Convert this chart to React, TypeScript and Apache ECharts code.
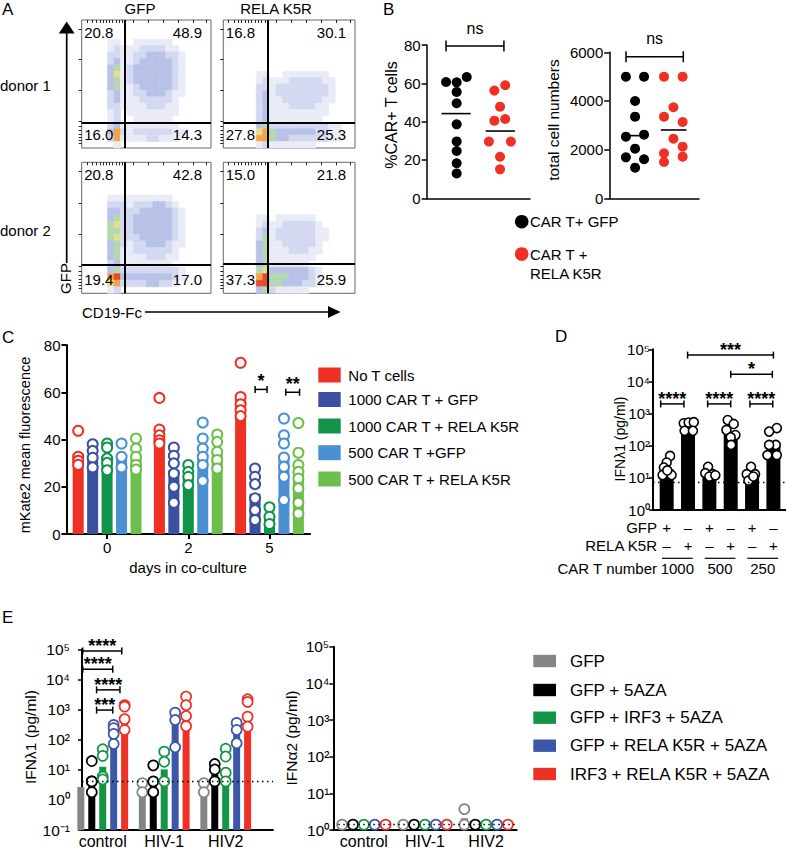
import React, { useEffect, useRef } from 'react';
import * as echarts from 'echarts';

const FF = '"Liberation Sans", Arial, Helvetica, sans-serif';

/* ---------------- Panel A : flow cytometry ---------------- */
const flowColumnLabels = ['GFP', 'RELA K5R'];
const flowRowLabels = ['donor 1', 'donor 2'];
// quadrant percentages: [upper-left, upper-right, lower-left, lower-right]
const flowQuadrantValues = [
  [20.8, 48.9, 16.0, 14.3],
  [16.8, 30.1, 27.8, 25.3],
  [20.8, 42.8, 19.4, 17.0],
  [15.0, 21.8, 37.3, 25.9],
];
const flowGateX = [6.7, 6.7, 6.7, 6.7];
const flowGateY = [16.0, 16.0, 15.7, 15.5];
// event density read on a 20 x 20 grid (row 0 = top), 0 = empty ... 7 = highest
const flowDensityDonor1Gfp = [
  '00000000000000000000',
  '00000000000000000000',
  '00000000000000000000',
  '00001100111111000000',
  '00001211122221100000',
  '00002211223332210000',
  '00002311233333210000',
  '00003412333333210000',
  '00003512333333210000',
  '00003412333333210000',
  '00003411233333210000',
  '00002311223332110000',
  '00002311122222100000',
  '00002211112221100000',
  '00001201111111100000',
  '00001200111111000000',
  '00002311111111100000',
  '00003621222222110000',
  '00002611112211100000',
  '00000100000000000000',
];
const flowDensityDonor1Rela = [
  '00000000000000000000',
  '00000000000000000000',
  '00000000000000000000',
  '00000000000000000000',
  '00000000000000000000',
  '00000000000000000000',
  '00000000000000000000',
  '00000000000000000000',
  '00000110011111110000',
  '00000121112222211000',
  '00000221222222221000',
  '00000231222222221000',
  '00000231122222211000',
  '00000231112222110000',
  '00000231111111110000',
  '00000231111111100000',
  '00000342222222221100',
  '00000564333333221100',
  '00000664332222221100',
  '00000121111111000000',
];
const flowDensityDonor2Gfp = [
  '00000000000000000000',
  '00000000000000000000',
  '00000000000000000000',
  '00000000000000000000',
  '00000000000000000000',
  '00001111111111000000',
  '00002221222332100000',
  '00003322233333210000',
  '00003422333333210000',
  '00004522333333210000',
  '00004422333333210000',
  '00004522233333210000',
  '00003421223332110000',
  '00003411222222100000',
  '00003411112221100000',
  '00002311111111000000',
  '00003422222222210000',
  '00006733333333210000',
  '00005622223322100000',
  '00001200000000000000',
];
const flowDensityDonor2Rela = [
  '00000000000000000000',
  '00000000000000000000',
  '00000000000000000000',
  '00000000000000000000',
  '00000000000000000000',
  '00000000000000000000',
  '00000000000000000000',
  '00000000000000000000',
  '00000110111111000000',
  '00000121122222100000',
  '00000231222222110000',
  '00000241222222110000',
  '00000341122222100000',
  '00000341112221100000',
  '00000341111111000000',
  '00000341111110000000',
  '00000453333332100000',
  '00000674443332100000',
  '00000774433322100000',
  '00000342111110000000',
];
const flowDensities = [flowDensityDonor1Gfp, flowDensityDonor1Rela, flowDensityDonor2Gfp, flowDensityDonor2Rela];

/* ---------------- Panel B ---------------- */
const bGroupLabels = ['CAR T+ GFP', 'CAR T +', 'RELA K5R'];
const bPctGfp = [60.7, 60.5, 63.3, 55.5, 49.6, 38.6, 29.7, 24.7, 18.3, 13.0];
const bPctRela = [56.2, 59.0, 47.8, 40.5, 41.4, 29.6, 29.6, 21.7, 15.1];
const bPctMedian = [44.2, 35.1];
const bCountGfp = [5000, 5000, 4000, 3356, 2534, 2616, 2041, 1685, 1603, 1260];
const bCountRela = [5000, 5000, 3740, 3356, 3137, 2452, 1849, 2123, 1493, 1712];
const bCountMedian = [2575, 2808];
const bSigLabel = ['ns'];
// horizontal scatter positions (jitter) of the dots
const bPctGfpX = [0.75, 1.16, 1.55, 1.16, 1.16, 1.16, 1.16, 1.16, 1.16, 1.16];
const bPctRelaX = [2.62, 3.04, 2.84, 2.62, 3.04, 2.41, 3.26, 2.84, 2.84];
const bCountGfpX = [0.74, 1.55, 1.15, 1.15, 0.74, 1.55, 1.15, 0.74, 1.55, 1.15];
const bCountRelaX = [2.44, 3.27, 2.86, 2.44, 3.27, 2.86, 2.44, 3.27, 2.44, 3.27];

/* ---------------- Panel C ---------------- */
const cDays = ['0', '2', '5'];
const cGroups = ['No T cells', '1000 CAR T + GFP', '1000 CAR T + RELA K5R', '500 CAR T +GFP', '500 CAR T + RELA K5R'];
const cNoTCellsMean = [34, 42, 57];
const cGfp1000Mean = [33, 27, 17];
const cRela1000Mean = [33, 25, 8];
const cGfp500Mean = [33, 34, 32];
const cRela500Mean = [33, 35, 25];
const cNoTCellsPts = [[43.7, 32.7, 31.0, 29.3], [57.6, 44.2, 41.8, 39.7, 38.3], [72.5, 58.0, 54.9, 52.4, 49.9]];
const cGfp1000Pts = [[38.0, 35.2, 32.3, 28.2], [36.6, 33.1, 29.9, 25.6, 20.0, 13.2], [27.7, 24.2, 21.1, 15.1, 10.1, 5.9]];
const cRela1000Pts = [[38.3, 36.6, 32.0, 30.1, 27.0], [29.2, 26.3, 24.2, 20.7], [11.3, 7.3, 4.2]];
const cGfp500Pts = [[38.3, 32.7, 28.2], [47.2, 40.4, 36.2, 32.7, 29.2, 22.5], [48.9, 41.8, 38.3, 32.4, 28.5, 24.2, 14.4]];
const cRela500Pts = [[40.4, 36.2, 32.7, 29.2, 27.3], [42.1, 39.0, 34.8, 31.3, 27.7], [47.0, 34.4, 29.2, 26.3, 23.5, 19.3, 13.2, 8.7]];
const cSigLabels = ['*', '**'];
const cSigFrom = [1.823, 2.2];
const cSigTo = [1.97, 2.37];
const cSigY = [61.2, 60];

/* ---------------- Panel D ---------------- */
const dGfpRow = ['+', '–', '+', '–', '+', '–'];
const dRelaRow = ['–', '+', '–', '+', '–', '+'];
const dCarTNumbers = ['1000', '500', '250'];
const dBarMeans = [18.5, 480, 14.5, 275, 13.8, 118];
const dPoints = [
  [48, 30, 21, 12.3, 12.3, 17],
  [500, 525, 540, 290, 290],
  [22, 14, 13, 11, 12],
  [630, 475, 310, 215, 182, 106],
  [22, 13, 13, 8.2, 11],
  [355, 275, 106, 106, 51, 51],
];
const dJitter = [
  [0.16, 0, -0.13, -0.19, 0.23, 0.03],
  [-0.2, 0.03, 0.27, -0.16, 0.23],
  [-0.06, -0.19, 0.16, 0, 0.28],
  [-0.14, 0.14, -0.2, 0.22, 0, 0.02],
  [-0.05, -0.25, 0.14, -0.17, 0.06],
  [0.16, -0.2, 0.11, -0.2, -0.28, 0.16],
];
const dDetectionLimit = 7.3;
const dSigLabels = ['****', '****', '****', '***', '*'];
const dSigFrom = [-0.28, 1.92, 3.9, 0.98, 3.0];
const dSigTo = [0.81, 3.0, 4.97, 5.0, 4.95];
const dSigY = [2000, 2000, 2000, 66000, 16700];

/* ---------------- Panel E ---------------- */
const eCategories = ['control', 'HIV-1', 'HIV2'];
const eConditions = ['GFP', 'GFP + 5AZA', 'GFP + IRF3 + 5AZA', 'GFP + RELA K5R + 5AZA', 'IRF3 + RELA K5R + 5AZA'];
const eLambdaGfpMean = [2.7, 2.7, 2.7];
const eLambdaAzaMean = [4.5, 4, 7];
const eLambdaIrf3Mean = [12.6, 10.3, 9];
const eLambdaRelaMean = [365, 610, 350];
const eLambdaIrf3RelaMean = [550, 700, 740];
const eLambdaGfpPts = [[3.6, 1.8], [3.6, 1.8], [3.6, 1.8]];
const eLambdaAzaPts = [[19.5, 4.1, 4.1, 1.8], [14, 4.1, 1.8], [15.5, 10.2, 4.1]];
const eLambdaIrf3Pts = [[48, 29, 5.9, 4.8], [40, 18.5, 4.1], [50, 27.5, 8, 4.1]];
const eLambdaRelaPts = [[310, 240, 155, 72], [790, 450, 56], [360, 210, 76]];
const eLambdaIrf3RelaPts = [[1400, 1250, 480, 210], [2700, 1400, 610, 280], [2200, 1800, 580, 270]];
const eLambdaLimit = 4.3;
const eSigLabels = ['****', '****', '****', '***'];
const eSigFrom = [-0.325, -0.325, -0.1, -0.1];
const eSigTo = [0.31, 0.163, 0.28, 0.163];
const eSigY = [88000, 21800, 4500, 960];
const eAlphaGfpMean = [1.4, 1.4, 2.1];
const eAlphaOtherMean = [1.4, 1.4, 1.4];
const eAlphaGfpPts = [[1.4], [1.4], [3.7, 1.4]];
const eAlphaOtherPts = [[1.4], [1.4], [1.4]];
const eAlphaLimit = 1.43;

/* ---------------- styling ---------------- */
const DENSITY_COLORS = ['rgba(0,0,0,0)', '#e9ecf7', '#d3d9f1', '#b8c2e8', '#b6d8b0', '#e4df8c', '#f3a446', '#e8482d'];
const C_COLORS = ['#ee3124', '#3b50a0', '#11934a', '#4a90d2', '#6dbf4b'];
const E_COLORS = ['#858585', '#000000', '#139547', '#3d57a8', '#ee3124'];
const GROUP_OFFSETS = [-0.356, -0.178, 0, 0.178, 0.356];
const FLOW_X_TICKS = [0.8, 1.6, 2.2, 2.8, 3.3, 3.8, 4.3, 4.8, 5.3, 5.8, 6.3, 8, 10.3, 12.6, 14.9, 17.2, 19.3];
const FLOW_Y_TICKS = [1.4, 6.2, 11, 15.8, 16.6, 17.2, 17.8, 18.3, 18.8, 19.3];
const SUP: Record<string, string> = { '-1': '⁻¹', '0': '⁰', '1': '¹', '2': '²', '3': '³', '4': '⁴', '5': '⁵' };
const logLabel = (v: number) => '10' + (SUP[String(Math.round(Math.log10(v)))] || '');

const line = (w: number) => ({ show: true, onZero: false, lineStyle: { color: '#000', width: w } });
const noSplit = { show: false };

const parseDensity = (rows: string[]) => {
  const out: number[][] = [];
  rows.forEach((row, r) => row.split('').forEach((ch, c) => {
    const d = Number(ch);
    if (d > 0) out.push([c, r, d]);
  }));
  return out;
};

const barSeries = (axis: number, xs: number[], vals: number[], base: number, color: string, width: number) => ({
  type: 'custom', xAxisIndex: axis, yAxisIndex: axis, silent: true, z: 2,
  encode: { x: 0, y: 1 },
  data: xs.map((x, i) => [x, vals[i]]),
  renderItem: (_p: any, api: any) => {
    const t = api.coord([api.value(0), api.value(1)]);
    const b = api.coord([api.value(0), base]);
    return { type: 'rect', shape: { x: t[0] - width / 2, y: t[1], width, height: b[1] - t[1] }, style: { fill: color } };
  },
});

const dotSeries = (axis: number, pts: number[][], border: string, fill: string, size: number, bw: number) => ({
  type: 'scatter', xAxisIndex: axis, yAxisIndex: axis, silent: true, z: 3,
  symbol: 'circle', symbolSize: size, data: pts,
  itemStyle: { color: fill, borderColor: border, borderWidth: bw, opacity: 1 },
});

const bracketSeries = (axis: number, from: number[], to: number[], ys: number[], labels: string[], tick: number, dy: number, fontSize: number, bold: boolean) => ({
  type: 'custom', xAxisIndex: axis, yAxisIndex: axis, silent: true, z: 5,
  encode: { x: [0, 1], y: 2 },
  data: from.map((f, i) => [f, to[i], ys[i]]),
  renderItem: (params: any, api: any) => {
    const a = api.coord([api.value(0), api.value(2)]);
    const b = api.coord([api.value(1), api.value(2)]);
    const st = { stroke: '#000', lineWidth: 1.5 };
    return {
      type: 'group',
      children: [
        { type: 'line', shape: { x1: a[0], y1: a[1], x2: b[0], y2: b[1] }, style: st },
        { type: 'line', shape: { x1: a[0], y1: a[1] - tick, x2: a[0], y2: a[1] + tick }, style: st },
        { type: 'line', shape: { x1: b[0], y1: b[1] - tick, x2: b[0], y2: b[1] + tick }, style: st },
        {
          type: 'text', x: (a[0] + b[0]) / 2, y: a[1] - dy,
          style: { text: labels[params.dataIndex % labels.length], fill: '#000', fontSize, fontFamily: FF, fontWeight: bold ? 'bold' : 'normal', align: 'center', verticalAlign: 'middle' },
        },
      ],
    };
  },
});

const medianSeries = (axis: number, xs: number[], meds: number[], half: number) => ({
  type: 'custom', xAxisIndex: axis, yAxisIndex: axis, silent: true, z: 4,
  encode: { x: 0, y: 1 },
  data: xs.map((x, i) => [x, meds[i]]),
  renderItem: (_p: any, api: any) => {
    const c = api.coord([api.value(0), api.value(1)]);
    return { type: 'line', shape: { x1: c[0] - half, y1: c[1], x2: c[0] + half, y2: c[1] }, style: { stroke: '#000', lineWidth: 1.6 } };
  },
});

const refLine = (axis: number, y: number) => ({
  type: 'scatter', xAxisIndex: axis, yAxisIndex: axis, data: [], z: 1, silent: true,
  markLine: { silent: true, symbol: ['none', 'none'], label: { show: false }, animation: false,
    lineStyle: { color: '#000', width: 1.3, type: [1.5, 3.5] }, data: [{ yAxis: y }] },
});

function buildOption() {
  const grids: any[] = [
    { left: 81.7, top: 20, width: 129.3, height: 128 },
    { left: 223.3, top: 20, width: 131.7, height: 128 },
    { left: 81.7, top: 162.3, width: 129.3, height: 131 },
    { left: 223.3, top: 162.3, width: 131.7, height: 131 },
  ].map((g) => ({ ...g, show: true, borderColor: '#666', borderWidth: 1, backgroundColor: 'transparent', outerBoundsMode: 'none', containLabel: false }));
  grids.push(
    { left: 426.7, top: 45, width: 103.3, height: 153.3 },
    { left: 609.3, top: 52.3, width: 89.7, height: 146 },
    { left: 66.5, top: 345, width: 243.6, height: 189 },
    { left: 653, top: 349.3, width: 133, height: 160.7 },
    { left: 82, top: 649.3, width: 191, height: 180.7 },
    { left: 333.3, top: 646.7, width: 183.4, height: 183.3 },
  );
  for (let i = 4; i < grids.length; i++) { grids[i].outerBoundsMode = 'none'; grids[i].containLabel = false; }

  const xAxis: any[] = [];
  const yAxis: any[] = [];
  for (let i = 0; i < 4; i++) {
    xAxis.push({ type: 'value', gridIndex: i, min: 0, max: 20, axisLine: { show: false }, axisLabel: { show: false }, splitLine: noSplit,
      axisTick: { show: true, length: 3, customValues: FLOW_X_TICKS, lineStyle: { color: '#222', width: 1 } } });
    yAxis.push({ type: 'value', gridIndex: i, min: 0, max: 20, inverse: true, axisLine: { show: false }, axisLabel: { show: false }, splitLine: noSplit,
      axisTick: { show: true, length: 3, customValues: FLOW_Y_TICKS, lineStyle: { color: '#222', width: 1 } } });
  }
  const lbl = (size: number, margin: number, extra: any = {}) => ({ fontSize: size, color: '#000', margin, fontFamily: FF, ...extra });
  const plain = (v: number) => String(v);
  // B
  xAxis.push({ type: 'value', gridIndex: 4, min: 0, max: 4, axisLine: line(1.5), axisTick: { show: false }, axisLabel: { show: false }, splitLine: noSplit });
  yAxis.push({ type: 'value', gridIndex: 4, min: 0, max: 80, interval: 20, axisLine: line(1.5), splitLine: noSplit,
    axisTick: { show: true, length: 5, lineStyle: { color: '#000', width: 1.5 } }, axisLabel: lbl(15, 6, { formatter: plain }) });
  xAxis.push({ type: 'value', gridIndex: 5, min: 0, max: 4, axisLine: line(1.5), axisTick: { show: false }, axisLabel: { show: false }, splitLine: noSplit });
  yAxis.push({ type: 'value', gridIndex: 5, min: 0, max: 6000, interval: 2000, axisLine: line(1.5), splitLine: noSplit,
    axisTick: { show: true, length: 5, lineStyle: { color: '#000', width: 1.5 } }, axisLabel: lbl(15, 6, { formatter: plain }) });
  // C
  xAxis.push({ type: 'value', gridIndex: 6, min: -0.5, max: 2.5, axisLine: line(2), splitLine: noSplit,
    axisTick: { show: true, length: 5, customValues: [0, 1, 2], lineStyle: { color: '#000', width: 2 } },
    axisLabel: lbl(15, 6, { customValues: [0, 1, 2], formatter: (v: number) => cDays[Math.round(v)] }) });
  yAxis.push({ type: 'value', gridIndex: 6, min: 0, max: 80, interval: 20, axisLine: line(2), splitLine: noSplit,
    axisTick: { show: true, length: 5, lineStyle: { color: '#000', width: 2 } }, axisLabel: lbl(15, 6, { formatter: plain }) });
  // D
  xAxis.push({ type: 'value', gridIndex: 7, min: -0.64, max: 5.59, axisLine: line(2), splitLine: noSplit, axisTick: { show: false },
    axisLabel: lbl(15, 8, { lineHeight: 18, customValues: [0, 1, 2, 3, 4, 5], formatter: (v: number) => dGfpRow[Math.round(v)] + '\n' + dRelaRow[Math.round(v)] }) });
  yAxis.push({ type: 'log', logBase: 10, gridIndex: 7, min: 1, max: 100000, axisLine: line(2), splitLine: noSplit,
    axisTick: { show: true, length: 4, lineStyle: { color: '#000', width: 1.5 } }, axisLabel: lbl(15, 3, { formatter: logLabel }) });
  // E left
  xAxis.push({ type: 'value', gridIndex: 8, min: -0.337, max: 2.769, axisLine: line(2), splitLine: noSplit, axisTick: { show: false },
    axisLabel: lbl(16, 3, { customValues: [0, 1, 2], formatter: (v: number) => eCategories[Math.round(v)] }) });
  yAxis.push({ type: 'log', logBase: 10, gridIndex: 8, min: 0.1, max: 100000, axisLine: line(2), splitLine: noSplit,
    axisTick: { show: true, length: 4, lineStyle: { color: '#000', width: 1.5 } }, axisLabel: lbl(15.5, 12, { formatter: logLabel }) });
  // E right
  xAxis.push({ type: 'value', gridIndex: 9, min: -0.5, max: 2.5, axisLine: line(2), splitLine: noSplit, axisTick: { show: false },
    axisLabel: lbl(16, 3, { customValues: [0, 1, 2], formatter: (v: number) => eCategories[Math.round(v)] }) });
  yAxis.push({ type: 'log', logBase: 10, gridIndex: 9, min: 1, max: 100000, axisLine: line(2), splitLine: noSplit,
    axisTick: { show: true, length: 4, lineStyle: { color: '#000', width: 1.5 } }, axisLabel: lbl(15.5, 4, { formatter: logLabel }) });

  const series: any[] = [];
  // A
  flowDensities.forEach((rows, i) => {
    series.push({
      type: 'custom', xAxisIndex: i, yAxisIndex: i, silent: true, z: 2,
      encode: { x: 0, y: 1 },
      data: parseDensity(rows),
      renderItem: (_p: any, api: any) => {
        const c = api.value(0), r = api.value(1), d = api.value(2);
        const a = api.coord([c, r]);
        const b = api.coord([c + 1, r + 1]);
        const col = DENSITY_COLORS[d];
        return { type: 'rect', shape: { x: Math.min(a[0], b[0]), y: Math.min(a[1], b[1]), width: Math.abs(b[0] - a[0]), height: Math.abs(b[1] - a[1]) },
          style: { fill: col, stroke: col, lineWidth: 0.6 } };
      },
    });
    series.push({
      type: 'scatter', xAxisIndex: i, yAxisIndex: i, data: [], z: 3, silent: true,
      markLine: { silent: true, symbol: ['none', 'none'], label: { show: false }, animation: false,
        lineStyle: { color: '#000', width: 2, type: 'solid' }, data: [{ xAxis: flowGateX[i] }, { yAxis: flowGateY[i] }] },
    });
  });
  // B
  series.push(dotSeries(4, bPctGfp.map((v, i) => [bPctGfpX[i], v]), '#000', '#000', 10, 0));
  series.push(dotSeries(4, bPctRela.map((v, i) => [bPctRelaX[i], v]), '#ee3124', '#ee3124', 10, 0));
  series.push(medianSeries(4, [1.14, 2.85], bPctMedian, 14.6));
  series.push(bracketSeries(4, [0.75], [2.99], [79.5], bSigLabel, 5.5, 17, 16, false));
  series.push(dotSeries(5, bCountGfp.map((v, i) => [bCountGfpX[i], v]), '#000', '#000', 10, 0));
  series.push(dotSeries(5, bCountRela.map((v, i) => [bCountRelaX[i], v]), '#ee3124', '#ee3124', 10, 0));
  series.push(medianSeries(5, [1.146, 2.87], bCountMedian, 12.8));
  series.push(bracketSeries(5, [0.745], [3.3], [5819], bSigLabel, 5.5, 18, 16, false));
  // C
  const cMeans = [cNoTCellsMean, cGfp1000Mean, cRela1000Mean, cGfp500Mean, cRela500Mean];
  const cPts = [cNoTCellsPts, cGfp1000Pts, cRela1000Pts, cGfp500Pts, cRela500Pts];
  cMeans.forEach((m, g) => {
    series.push(barSeries(6, cDays.map((_d, k) => k + GROUP_OFFSETS[g]), m, 0, C_COLORS[g], 11));
  });
  cPts.forEach((p, g) => {
    const pts: number[][] = [];
    p.forEach((vals, k) => vals.forEach((v) => pts.push([k + GROUP_OFFSETS[g], v])));
    series.push(dotSeries(6, pts, C_COLORS[g], '#fff', 10, 2));
  });
  series.push(bracketSeries(6, cSigFrom, cSigTo, cSigY, cSigLabels, 3.5, 8, 18, true));
  // D
  series.push(refLine(7, dDetectionLimit));
  series.push(barSeries(7, dBarMeans.map((_v, i) => i), dBarMeans, 1, '#000', 14));
  const dPts: number[][] = [];
  dPoints.forEach((vals, i) => vals.forEach((v, j) => dPts.push([i + dJitter[i][j], v])));
  series.push(dotSeries(7, dPts, '#000', '#fff', 9, 1.6));
  series.push(bracketSeries(7, dSigFrom, dSigTo, dSigY, dSigLabels, 3.5, 5, 18, true));
  // E left
  series.push(refLine(8, eLambdaLimit));
  const eLMeans = [eLambdaGfpMean, eLambdaAzaMean, eLambdaIrf3Mean, eLambdaRelaMean, eLambdaIrf3RelaMean];
  const eLPts = [eLambdaGfpPts, eLambdaAzaPts, eLambdaIrf3Pts, eLambdaRelaPts, eLambdaIrf3RelaPts];
  eLMeans.forEach((m, g) => series.push(barSeries(8, eCategories.map((_c, k) => k + GROUP_OFFSETS[g]), m, 0.1, E_COLORS[g], 7)));
  eLPts.forEach((p, g) => {
    const pts: number[][] = [];
    p.forEach((vals, k) => vals.forEach((v) => pts.push([k + GROUP_OFFSETS[g], v])));
    series.push(dotSeries(8, pts, E_COLORS[g], '#fff', 10, 1.7));
  });
  series.push(bracketSeries(8, eSigFrom, eSigTo, eSigY, eSigLabels, 3.5, 5, 18, true));
  // E right
  series.push(refLine(9, eAlphaLimit));
  const eAMeans = [eAlphaGfpMean, eAlphaOtherMean, eAlphaOtherMean, eAlphaOtherMean, eAlphaOtherMean];
  const eAPts = [eAlphaGfpPts, eAlphaOtherPts, eAlphaOtherPts, eAlphaOtherPts, eAlphaOtherPts];
  eAMeans.forEach((m, g) => series.push(barSeries(9, eCategories.map((_c, k) => k + GROUP_OFFSETS[g]), m, 1, E_COLORS[g], 7)));
  eAPts.forEach((p, g) => {
    const pts: number[][] = [];
    p.forEach((vals, k) => vals.forEach((v) => pts.push([k + GROUP_OFFSETS[g], v])));
    series.push(dotSeries(9, pts, E_COLORS[g], '#fff', 10, 1.7));
  });

  return {
    animation: false,
    backgroundColor: '#fff',
    textStyle: { fontFamily: FF, color: '#000' },
    grid: grids,
    xAxis,
    yAxis,
    series,
  };
}

const T = (x: number, y: number, text: string, o: any = {}) => ({
  type: 'text', x, y, rotation: o.rot || 0, silent: true, z: 10,
  style: { text, fill: o.color || '#000', fontSize: o.size || 15, fontFamily: FF, fontWeight: o.weight || 'normal',
    align: o.align || 'left', verticalAlign: o.va || 'middle' },
});

function buildGraphics(chart: any) {
  const px = (a: number, x: number, y: number) => chart.convertToPixel({ xAxisIndex: a, yAxisIndex: a }, [x, y]);
  const g: any[] = [];
  const R = Math.PI / 2;
  // panel letters
  g.push(T(2, 9, 'A', { size: 17 }), T(383, 9, 'B', { size: 17 }), T(2, 337, 'C', { size: 17 }), T(555, 336, 'D', { size: 17 }), T(2, 617, 'E', { size: 17 }));
  // A headers & arrows
  g.push(T(140, 8.5, flowColumnLabels[0], { align: 'center' }), T(276, 8.5, flowColumnLabels[1], { align: 'center' }));
  g.push(T(0, 85, flowRowLabels[0]), T(0, 230, flowRowLabels[1]));
  g.push({ type: 'line', shape: { x1: 66.7, y1: 32, x2: 66.7, y2: 263 }, style: { stroke: '#000', lineWidth: 1.7 }, silent: true });
  g.push({ type: 'polygon', shape: { points: [[66.7, 21.5], [58.8, 33.5], [74.6, 33.5]] }, style: { fill: '#000' }, silent: true });
  g.push(T(65.5, 278.5, 'GFP', { rot: R, align: 'center' }));
  g.push(T(82, 312, 'CD19-Fc'));
  g.push({ type: 'line', shape: { x1: 145, y1: 312, x2: 329, y2: 312 }, style: { stroke: '#000', lineWidth: 1.7 }, silent: true });
  g.push({ type: 'polygon', shape: { points: [[340.5, 312], [328, 306], [328, 318]] }, style: { fill: '#000' }, silent: true });
  // quadrant values
  for (let i = 0; i < 4; i++) {
    const tl = px(i, 0, 0);
    const br = px(i, 20, 20);
    const q = flowQuadrantValues[i].map((v) => v.toFixed(1));
    g.push(T(tl[0] + 2.5, tl[1] + 12, q[0]), T(br[0] - 9, tl[1] + 12, q[1], { align: 'right' }),
      T(tl[0] + 2.5, br[1] - 14, q[2]), T(br[0] - 9, br[1] - 14, q[3], { align: 'right' }));
  }
  // B titles & legend
  g.push(T(391.7, 115, '%CAR+ T cells', { rot: R, align: 'center', size: 16 }));
  g.push(T(553.3, 120, 'total cell numbers', { rot: R, align: 'center', size: 15.5 }));
  g.push({ type: 'circle', shape: { cx: 521.7, cy: 221.7, r: 6.8 }, style: { fill: '#000' }, silent: true });
  g.push({ type: 'circle', shape: { cx: 521.7, cy: 254, r: 6.8 }, style: { fill: '#ee3124' }, silent: true });
  g.push(T(530, 221.7, bGroupLabels[0]), T(530, 254, bGroupLabels[1]), T(530, 273.3, bGroupLabels[2]));
  // C titles & legend
  g.push(T(25, 445, 'mKate2 mean fluorescence', { rot: R, align: 'center', size: 14.5 }));
  g.push(T(188, 567, 'days in co-culture', { align: 'center' }));
  const cRows = [375, 399.5, 426, 452.7, 479];
  cGroups.forEach((name, k) => {
    g.push({ type: 'rect', shape: { x: 318.3, y: cRows[k] - 7.5, width: 22.4, height: 15 }, style: { fill: C_COLORS[k] }, silent: true });
    g.push(T(348.3, cRows[k], name));
  });
  // D titles and lower labels
  g.push(T(620, 439, 'IFNλ1 (pg/ml)', { rot: R, align: 'center', size: 14 }));
  const d0 = px(7, -0.64, 1);
  const yb = d0[1];
  g.push(T(d0[0] + 4, yb + 17, 'GFP', { align: 'right' }), T(d0[0] + 4, yb + 35, 'RELA K5R', { align: 'right' }), T(d0[0] + 4, yb + 58, 'CAR T number', { align: 'right' }));
  dCarTNumbers.forEach((t, k) => {
    const c = 2 * k + 0.5;
    const p = px(7, c, 1);
    const l = px(7, c - 0.72, 1);
    const r = px(7, c + 0.72, 1);
    g.push({ type: 'line', shape: { x1: l[0], y1: yb + 48.3, x2: r[0], y2: yb + 48.3 }, style: { stroke: '#000', lineWidth: 1.2 }, silent: true });
    g.push(T(p[0], yb + 58, t, { align: 'center' }));
  });
  // E titles & legend
  g.push(T(30, 737, 'IFNλ1 (pg/ml)', { rot: R, align: 'center', size: 15.5 }));
  g.push(T(291, 738, 'IFNα2 (pg/ml)', { rot: R, align: 'center', size: 15.5 }));
  const eRows = [661, 690, 717.7, 745.7, 774];
  eConditions.forEach((name, k) => {
    g.push({ type: 'rect', shape: { x: 533.3, y: eRows[k] - 6.2, width: 22.7, height: 12.4 }, style: { fill: E_COLORS[k] }, silent: true });
    g.push(T(570, eRows[k], name, { size: 17 }));
  });
  return g;
}

export default function App() {
  const ref = useRef<HTMLDivElement>(null);
  useEffect(() => {
    if (!ref.current) return;
    const chart = echarts.init(ref.current, null, { renderer: 'svg', width: 786, height: 848 });
    chart.setOption(buildOption() as any);
    chart.setOption({ graphic: buildGraphics(chart) } as any);
    return () => chart.dispose();
  }, []);
  return <div ref={ref} style={{ position: 'absolute', left: 0, top: 0, width: 786, height: 848, background: '#fff' }} />;
}
